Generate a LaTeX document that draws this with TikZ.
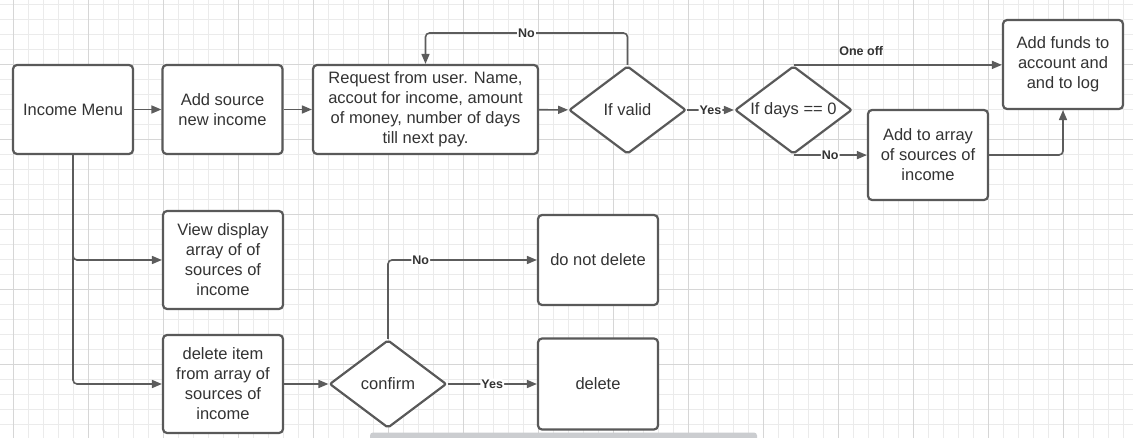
\documentclass[tikz,border=0pt]{standalone}
\usepackage{fontspec}
\setmainfont{Liberation Sans}
\usetikzlibrary{shapes.geometric,arrows.meta}
\definecolor{boxc}{HTML}{595959}
\definecolor{linec}{HTML}{5C5C5C}
\definecolor{txt}{HTML}{333333}
\definecolor{gminor}{HTML}{EBEBEB}
\definecolor{gmajor}{HTML}{D6D6D6}
\definecolor{scroll}{HTML}{CBCDD0}
\tikzset{
  box/.style={draw=boxc, line width=2.2pt, rounded corners=4pt, fill=white, align=center,
    inner sep=0pt, text=txt, font=\fontsize{16.5}{20}\selectfont},
  dec/.style={shape=diamond, draw=boxc, line width=2.2pt, rounded corners=2pt, fill=white,
    minimum width=117pt, minimum height=88pt, inner sep=0pt},
  dectext/.style={text=txt, inner sep=0pt, font=\fontsize{16.5}{20}\selectfont},
  conn/.style={draw=linec, line width=1.6pt, rounded corners=4pt,
    -{Triangle[length=10pt,width=8pt]}},
  lbl/.style={fill=white, inner sep=1pt, text=txt, font=\bfseries\fontsize{12.5}{14}\selectfont},
  gmin/.style={draw=gminor, line width=0.8pt},
  gmaj/.style={draw=gmajor, line width=1pt},
}
\begin{document}
\begin{tikzpicture}[x=1pt,y=-1pt]
\useasboundingbox (0,0) rectangle (1133,438);
\fill[white] (0,0) rectangle (1133,438);
% grid
\foreach \i in {0,...,74} { \draw[gmin] (13.3+15*\i,0) -- (13.3+15*\i,438); }
\foreach \i in {0,...,29} { \draw[gmin] (0,4.3+15*\i) -- (1133,4.3+15*\i); }
\foreach \i in {0,...,14} { \draw[gmaj] (13.3+75*\i,0) -- (13.3+75*\i,438); }
\foreach \i in {0,...,5} { \draw[gmaj] (0,64.3+75*\i) -- (1133,64.3+75*\i); }
% scrollbar
\fill[scroll, rounded corners=3pt] (370,432.5) rectangle (757,441);

% nodes
\node[box, minimum width=120pt, minimum height=89pt] (menu) at (73,109.5) {Income Menu};
\node[box, minimum width=120pt, minimum height=89pt] (addsrc) at (222.5,109.5) {Add source\\new income};
\node[box, minimum width=225pt, minimum height=89pt] (req) at (425.5,109.5)
  {Request from user. Name,\\accout for income, amount\\of money, number of days\\till next pay.};
\node[dec] (valid) at (627.5,110) {};
\node[dectext] (validt) at (valid) {If valid};
\node[dec] (days) at (793.5,110) {};
\node[dectext] (dayst) at (days) {If days == 0};
\node[box, minimum width=120pt, minimum height=89pt] (funds) at (1063,64.5) {Add funds to\\account and\\and to log};
\node[box, minimum width=120pt, minimum height=90pt] (arr) at (928,155) {Add to array\\of sources of\\income};
\node[box, minimum width=120pt, minimum height=98pt] (view) at (223,260) {View display\\array of of\\sources of\\income};
\node[box, minimum width=120pt, minimum height=98pt] (del) at (223,384) {delete item\\from array of\\sources of\\income};
\node[dec] (confirm) at (388,384) {};
\node[dectext] (confirmt) at (confirm) {confirm};
\node[box, minimum width=120pt, minimum height=90pt] (nodel) at (598,260) {do not delete};
\node[box, minimum width=120pt, minimum height=91pt] (delete) at (598,384) {delete};

% connectors
\draw[conn] (menu) -- (addsrc);
\draw[conn] (addsrc) -- (req);
\draw[conn] (req) -- (valid);
\draw[conn] (valid.north) -- (valid.north |- 0,33) -- node[lbl]{No} (req.north |- 0,33) -- (req.north);
\draw[conn] (valid) -- node[lbl]{Yes} (days);
\draw[conn] (days.north) -- node[pos=0.325, yshift=14pt, text=txt, inner sep=0pt,
  font=\bfseries\fontsize{12.5}{14}\selectfont]{One off} (days.north -| funds.west);
\draw[conn] (days.south) -- node[lbl]{No} (days.south -| arr.west);
\draw[conn] (arr.east) -| (funds.south);
\draw[conn] (menu.south) |- (view.west);
\draw[conn] (menu.south) |- (del.west);
\draw[conn] (del) -- (confirm);
\draw[conn] (confirm.north) |- node[lbl, pos=0.61]{No} (nodel.west);
\draw[conn] (confirm) -- node[lbl]{Yes} (delete);
\end{tikzpicture}
\end{document}
